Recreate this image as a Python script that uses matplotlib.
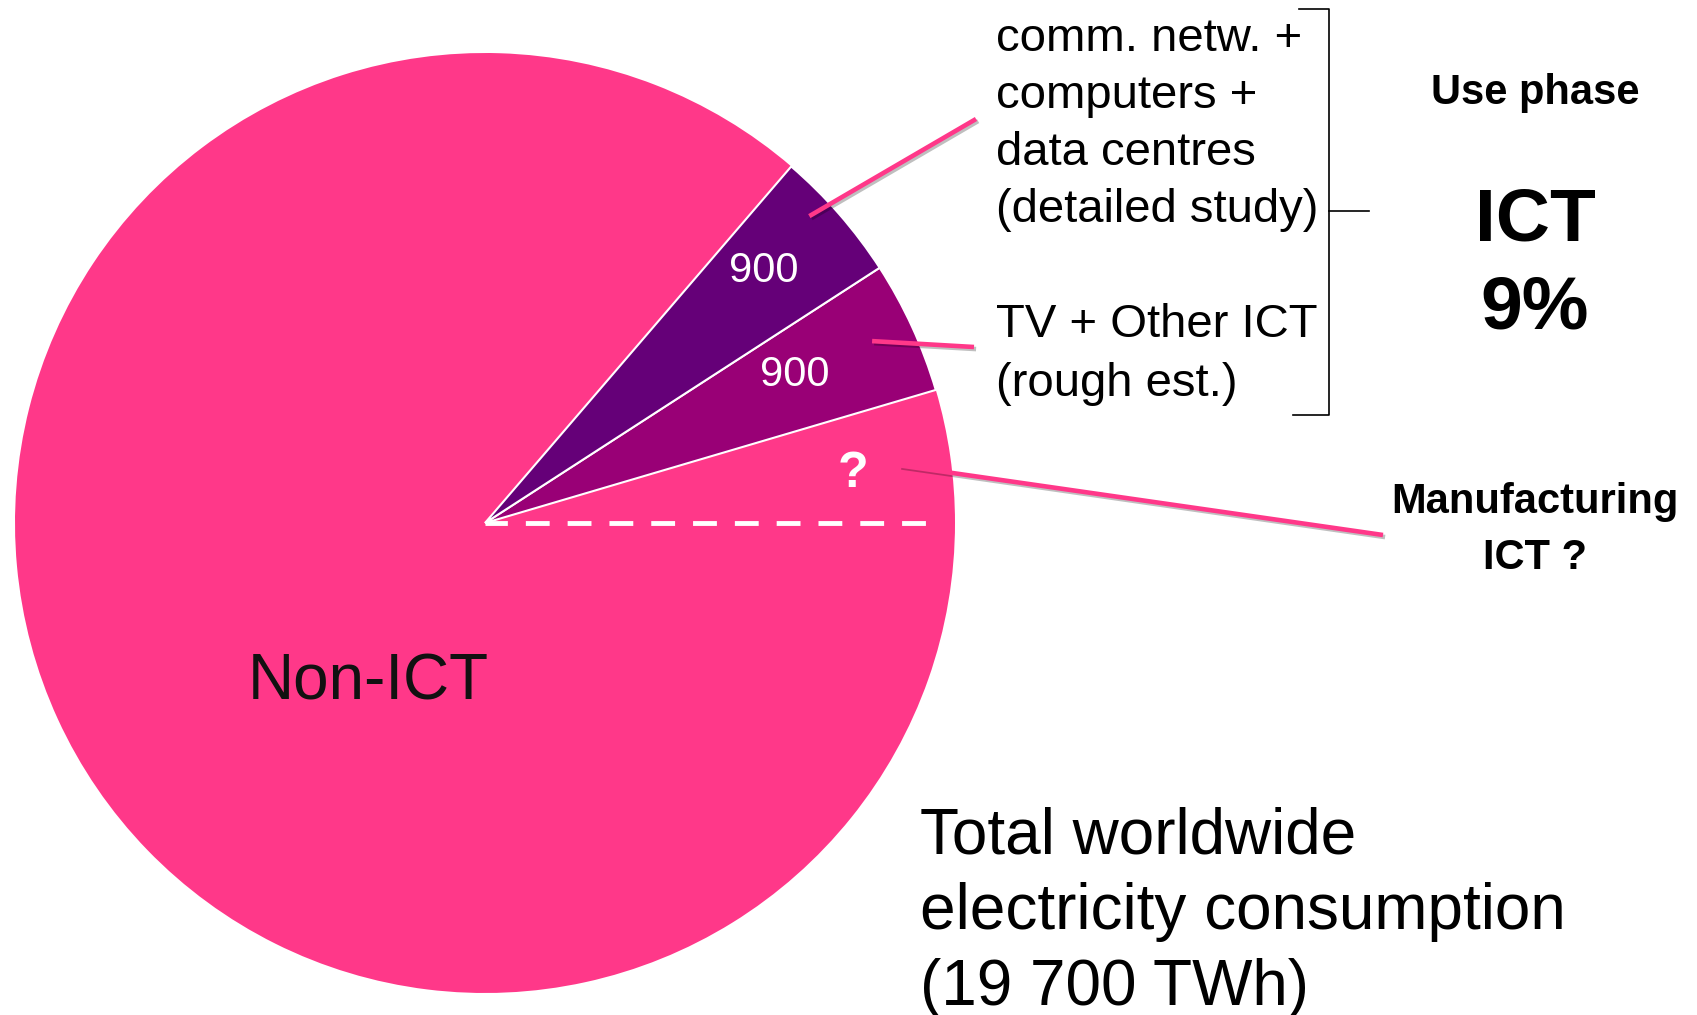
import numpy as np
import matplotlib
matplotlib.use("Agg")
import matplotlib.pyplot as plt
import matplotlib.patheffects as pe

plt.rcParams["font.family"] = ["Liberation Sans", "DejaVu Sans"]

# TWh, counter-clockwise from the dashed line
TOTAL = 19700
categories = ["Manufacturing ICT ?", "TV + Other ICT", "comm. netw. + computers + data centres", "Non-ICT"]
ict_use = [900, 900]            # TV/other, comm+computers+DC
manuf_guess = 900               # drawn size of the "?" slice (unknown)
values = [manuf_guess] + ict_use + [TOTAL - manuf_guess - sum(ict_use)]
wedge_labels = ["?", "900", "900", None]
colors = ["#ff3889", "#990076", "#650078", "#ff3889"]

PINK = "#ff3889"

fig = plt.figure(figsize=(16.97, 10.15), dpi=100)
ax = fig.add_axes([0, 0, 1, 1])

cx, cy, R = 485, 492, 470
wedges, _ = ax.pie(values, colors=colors, startangle=0, counterclock=True,
                   center=(cx, cy), radius=R, frame=True)
for i, w in enumerate(wedges):
    if i in (1, 2):
        w.set_edgecolor("white")
        w.set_linewidth(1.5)
        w.set_zorder(3)
    else:
        w.set_linewidth(0)
        w.set_zorder(2)

ax.set_xlim(0, 1697)
ax.set_ylim(0, 1015)
ax.set_aspect("equal")
ax.axis("off")


def polar(ang, r):
    a = np.deg2rad(ang)
    return cx + r * R * np.cos(a), cy + r * R * np.sin(a)


# dashed line marking the start of the manufacturing slice
x0, y0 = polar(wedges[0].theta1, 0)
x1, y1 = polar(wedges[0].theta1, 0.975)
ax.plot([x0, x1], [y0, y1], color="white", lw=3.5, ls=(0.3, (4.9, 3.7)),
        solid_capstyle="butt", zorder=4)

# labels inside the slices (angle nudge, radius fraction, size)
label_pos = [(-0.6, 0.79, 36), (0.8, 0.73, 30), (1.0, 0.80, 30)]
for w, txt, (da, r, fs) in zip(wedges[:3], wedge_labels[:3], label_pos):
    mid = (w.theta1 + w.theta2) / 2 + da
    tx, ty = polar(mid, r)
    ax.text(tx, ty, txt, color="white", fontsize=fs, ha="center", va="center",
            fontweight="bold" if txt == "?" else "normal", zorder=5)

ax.text(368, 332, "Non-ICT", fontsize=46, color="#111111", ha="center",
        va="center", zorder=5)

# connector lines from slices to the text
shadow = [pe.SimpleLineShadow(offset=(1.5, -1.5), alpha=0.25), pe.Normal()]
conn_pos = [(-0.3, 0.89), (0.5, 0.91), (2.3, 0.95)]
conn_end = [(1383, 480), (974, 668), (976, 896)]
for w, (da, r), end in zip(wedges[:3], conn_pos, conn_end):
    mid = (w.theta1 + w.theta2) / 2 + da
    sx, sy = polar(mid, r)
    ax.plot([sx, end[0]], [sy, end[1]], color=PINK, lw=3.3, zorder=6,
            solid_capstyle="butt", path_effects=shadow)


def text_lines(x, y, lines, step, **kw):
    for i, s in enumerate(lines):
        ax.text(x, y - i * step, s, va="baseline", **kw)


text_lines(996, 964, ["comm. netw. +", "computers +", "data centres", "(detailed study)"],
           57, fontsize=34, ha="left")
text_lines(996, 678, ["TV + Other ICT", "(rough est.)"], 59, fontsize=34, ha="left")

# bracket
bx = 1329
ax.plot([1299, bx, bx, 1293], [1006, 1006, 600, 600], color="black", lw=1.2)
ax.plot([bx, 1369], [804, 804], color="black", lw=1.2)

ax.text(1535, 911, "Use phase", fontsize=30, fontweight="bold", ha="center", va="baseline")
text_lines(1535, 775, ["ICT", "9%"], 88, fontsize=54, fontweight="bold", ha="center")
text_lines(1535, 502, ["Manufacturing", "ICT ?"], 56, fontsize=30, fontweight="bold", ha="center")

text_lines(920, 162, ["Total worldwide", "electricity consumption", "(19 700 TWh)"],
           76, fontsize=46, ha="left")

fig.savefig("out.png", dpi=100)
